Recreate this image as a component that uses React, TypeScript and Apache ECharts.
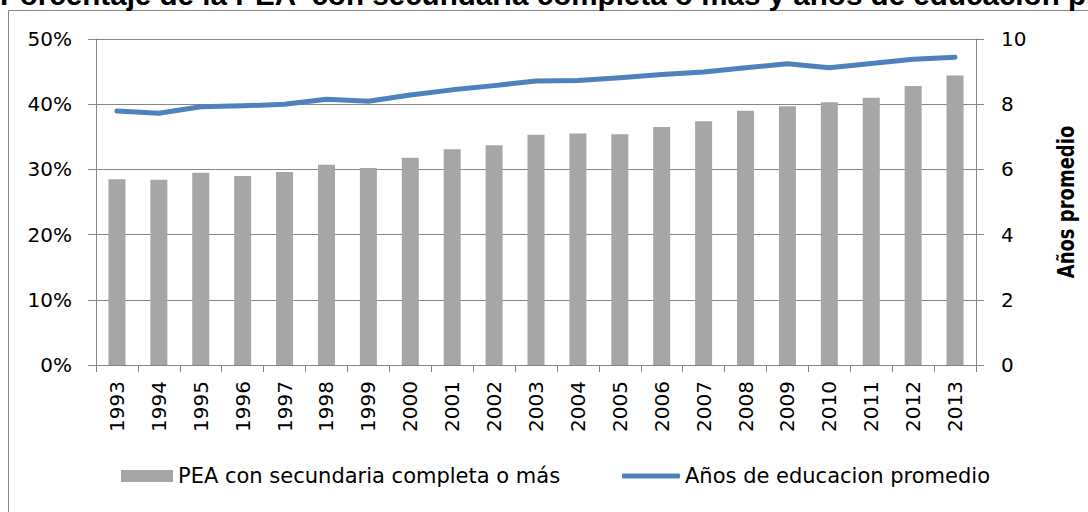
import React, { useEffect, useRef } from "react";
import * as echarts from "echarts";

const years = ["1993","1994","1995","1996","1997","1998","1999","2000","2001","2002","2003","2004","2005","2006","2007","2008","2009","2010","2011","2012","2013"];
const peaSecundaria = [28.5,28.4,29.5,29.0,29.6,30.7,30.2,31.8,33.1,33.7,35.3,35.5,35.4,36.5,37.4,39.0,39.7,40.3,41.0,42.8,44.4];
const aniosEducacion = [7.79,7.72,7.92,7.95,8.0,8.15,8.09,8.28,8.44,8.57,8.71,8.73,8.81,8.91,8.99,9.12,9.24,9.12,9.25,9.38,9.44];

const barName = "PEA con secundaria completa o más";
const lineName = "Años de educacion promedio";
const titleText = "Porcentaje de la PEA  con secundaria completa o más y años de educación promedio";
const rightAxisTitle = "Años promedio";

const FONT = "DejaVu Sans";

export default function App() {
  const ref = useRef<HTMLDivElement>(null);
  useEffect(() => {
    const chart = echarts.init(ref.current!, null, { renderer: "svg" });
    const axisGray = "#868686";
    chart.setOption({
      animation: false,
      backgroundColor: "#ffffff",
      graphic: [
        {
          type: "rect",
          shape: { x: 8.5, y: 10.5, width: 1200, height: 600 },
          style: { fill: "none", stroke: axisGray, lineWidth: 1 },
          silent: true,
          z: 0,
        },
        {
          type: "text",
          x: 0,
          y: -6,
          style: {
            text: titleText,
            fontFamily: "Liberation Sans",
            fontWeight: "bold",
            fontSize: 29.6,
            fill: "#000",
            textAlign: "left",
            textVerticalAlign: "middle",
          },
        },
        {
          type: "text",
          x: 1066,
          y: 202,
          rotation: Math.PI / 2,
          scaleX: 1,
          scaleY: 1.3,
          style: {
            text: rightAxisTitle,
            fontFamily: FONT,
            fontWeight: "bold",
            fontSize: 18,
            fill: "#000",
            textAlign: "center",
            textVerticalAlign: "middle",
          },
        },
      ],
      grid: { left: 96, right: 112, top: 39, bottom: 147, containLabel: false },
      legend: [
        {
          data: [{ name: barName, icon: "rect" }],
          left: 121,
          top: 465.5,
          padding: 0,
          itemWidth: 52,
          itemHeight: 12,
          textStyle: { fontFamily: FONT, fontSize: 21, color: "#000" },
        },
        {
          data: [{ name: lineName, icon: "roundRect" }],
          left: 622,
          top: 465.5,
          padding: 0,
          itemWidth: 58,
          itemHeight: 5,
          textStyle: { fontFamily: FONT, fontSize: 21, color: "#000" },
        },
      ],
      xAxis: {
        type: "category",
        data: years,
        boundaryGap: true,
        axisLine: { show: true, lineStyle: { color: axisGray, width: 1 } },
        axisTick: { show: true, length: 7, alignWithLabel: false, lineStyle: { color: axisGray } },
        axisLabel: {
          rotate: 90,
          margin: 16,
          interval: 0,
          fontFamily: FONT,
          fontSize: 20,
          color: "#000",
        },
        splitLine: { show: false },
      },
      yAxis: [
        {
          type: "value",
          min: 0,
          max: 50,
          interval: 10,
          position: "left",
          axisLine: { show: true, lineStyle: { color: axisGray, width: 1 } },
          axisTick: { show: true, length: 8, lineStyle: { color: axisGray } },
          axisLabel: {
            formatter: "{value}%",
            margin: 24,
            fontFamily: FONT,
            fontSize: 20,
            color: "#000",
          },
          splitLine: { show: true, lineStyle: { color: axisGray, width: 1 } },
        },
        {
          type: "value",
          min: 0,
          max: 10,
          interval: 2,
          position: "right",
          axisLine: { show: true, lineStyle: { color: axisGray, width: 1 } },
          axisTick: { show: true, length: 8, lineStyle: { color: axisGray } },
          axisLabel: {
            margin: 25,
            fontFamily: FONT,
            fontSize: 20,
            color: "#000",
          },
          splitLine: { show: false },
        },
      ],
      series: [
        {
          name: barName,
          type: "bar",
          yAxisIndex: 0,
          data: peaSecundaria,
          barWidth: 17,
          itemStyle: { color: "#A6A6A6" },
          z: 2,
        },
        {
          name: lineName,
          type: "line",
          yAxisIndex: 1,
          data: aniosEducacion,
          symbol: "none",
          showSymbol: false,
          lineStyle: { color: "#4F81BD", width: 5, cap: "round", join: "round" },
          itemStyle: { color: "#4F81BD" },
          z: 3,
        },
      ],
    });
    return () => chart.dispose();
  }, []);
  return (
    <div
      ref={ref}
      style={{ position: "fixed", left: 0, top: 0, width: 1088, height: 512 }}
    />
  );
}
